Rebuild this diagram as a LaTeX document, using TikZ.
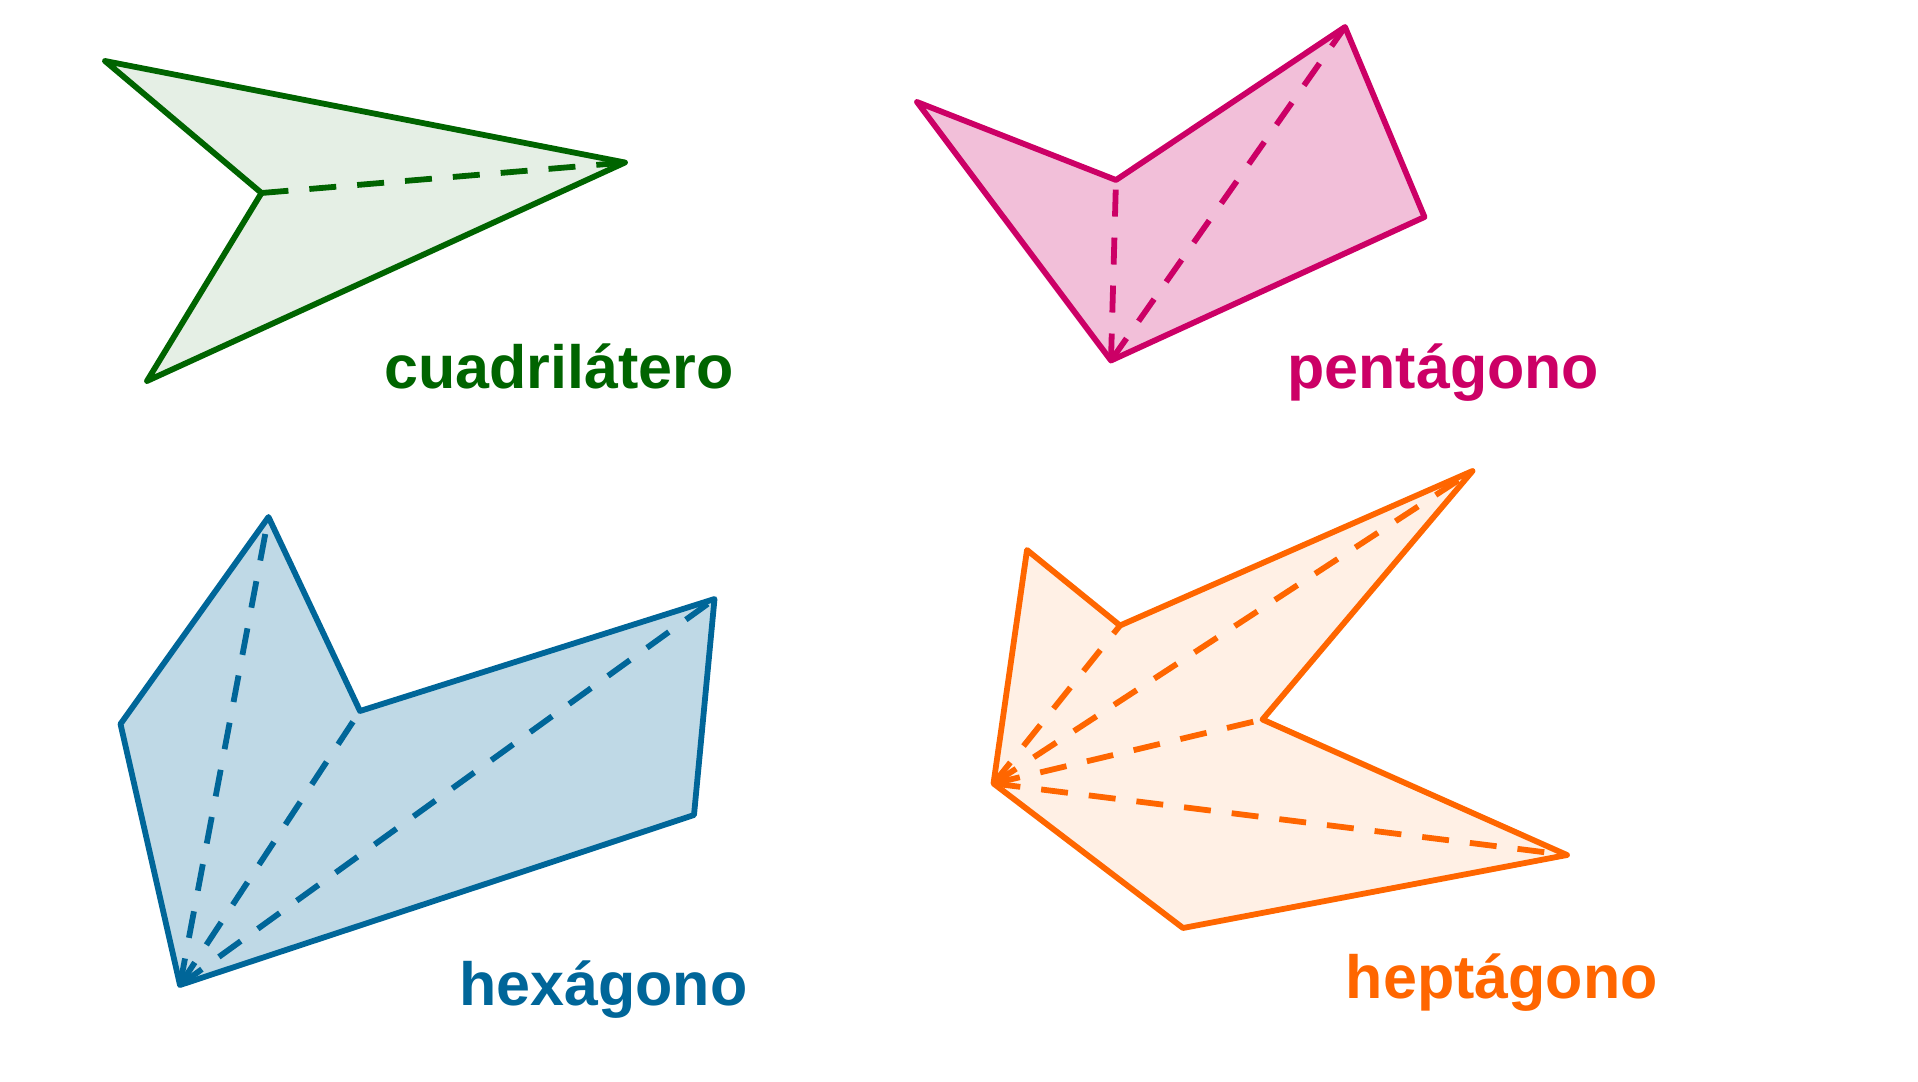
\documentclass[tikz,border=0pt]{standalone}
\usepackage{fontspec}
\setmainfont{Liberation Sans}
\definecolor{qgreen}{HTML}{006400}
\definecolor{ppink}{HTML}{CC0066}
\definecolor{hblue}{HTML}{006699}
\definecolor{horange}{HTML}{FF6600}
\tikzset{
  poly/.style={line width=2.9pt, line join=round, line cap=round},
  diag/.style={line width=2.9pt, dash pattern=on 13.5pt off 10.5pt},
  lbl/.style={anchor=base west, inner sep=0pt, font=\fontsize{30.5pt}{36pt}\selectfont\bfseries}
}
\begin{document}
\begin{tikzpicture}[x=0.5pt, y=-0.5pt]
\useasboundingbox (0,0) rectangle (1918,1082);
% cuadrilatero
\coordinate (q1) at (105,61);
\coordinate (q2) at (625,162.5);
\coordinate (q3) at (147,381);
\coordinate (q4) at (261.5,193);
\filldraw[poly, draw=qgreen, fill=qgreen!10!white] (q1) -- (q2) -- (q3) -- (q4) -- cycle;
\draw[diag, qgreen] (q4) -- (q2);
\node[lbl, text=qgreen] (lq) at (384,388) {cuadrilátero};
% pentagono
\coordinate (p1) at (917,102);
\coordinate (p2) at (1116,180);
\coordinate (p3) at (1345,27);
\coordinate (p4) at (1424.5,217);
\coordinate (p5) at (1111,360.5);
\filldraw[poly, draw=ppink, fill=ppink!25!white] (p1) -- (p2) -- (p3) -- (p4) -- (p5) -- cycle;
\draw[diag, ppink] (p5) -- (p2);
\draw[diag, ppink] (p5) -- (p3);
\node[lbl, text=ppink] (lp) at (1287,388) {pentágono};
% hexagono
\coordinate (h1) at (268.5,517);
\coordinate (h2) at (360,711);
\coordinate (h3) at (714.5,599);
\coordinate (h4) at (694,815);
\coordinate (h5) at (180,985);
\coordinate (h6) at (120.5,724);
\filldraw[poly, draw=hblue, fill=hblue!25!white] (h1) -- (h2) -- (h3) -- (h4) -- (h5) -- (h6) -- cycle;
\draw[diag, hblue] (h5) -- (h1);
\draw[diag, hblue] (h5) -- (h2);
\draw[diag, hblue] (h5) -- (h3);
\node[lbl, text=hblue] (lh) at (459,1005) {hexágono};
% heptagono
\coordinate (e1) at (993.5,783.5);
\coordinate (e2) at (1027,550);
\coordinate (e3) at (1120,625.5);
\coordinate (e4) at (1472.5,471);
\coordinate (e5) at (1262.5,719.5);
\coordinate (e6) at (1567,855);
\coordinate (e7) at (1183,928);
\filldraw[poly, draw=horange, fill=horange!10!white] (e1) -- (e2) -- (e3) -- (e4) -- (e5) -- (e6) -- (e7) -- cycle;
\draw[diag, horange] (e1) -- (e3);
\draw[diag, horange] (e1) -- (e4);
\draw[diag, horange] (e1) -- (e5);
\draw[diag, horange] (e1) -- (e6);
\node[lbl, text=horange] (le) at (1345.5,998) {heptágono};
\end{tikzpicture}
\end{document}
